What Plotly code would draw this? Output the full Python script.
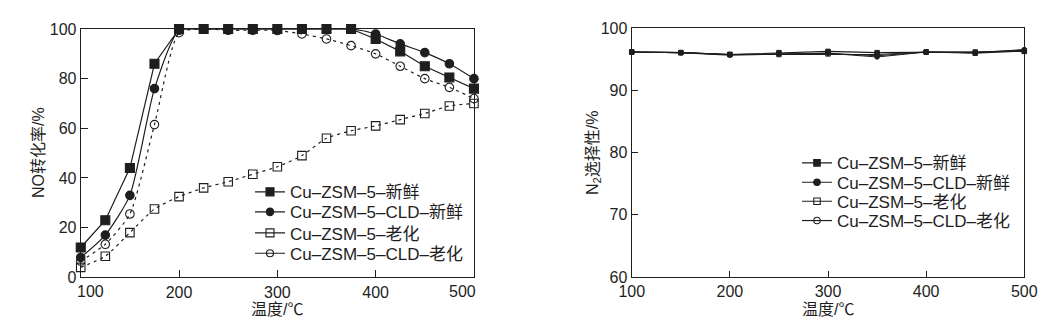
import plotly.graph_objects as go

# ---------------- data ----------------
temp_left = [100, 125, 150, 175, 200, 225, 250, 275, 300, 325, 350, 375, 400, 425, 450, 475, 500]
conv_fresh = [12, 23, 44, 86, 100, 100, 100, 100, 100, 100, 100, 100, 96, 91, 85, 80.5, 76]
conv_cld_fresh = [8, 17, 33, 76, 99.5, 100, 100, 100, 100, 100, 100, 100, 98, 94, 90.5, 86, 80]
conv_aged = [4, 8.5, 18, 27.5, 32.5, 36, 38.5, 41.5, 44.5, 49, 56, 59, 61, 63.5, 66, 69, 70]
conv_cld_aged = [6.5, 13.3, 25.5, 61.5, 98.5, 100, 99.5, 99.5, 99.4, 98, 96, 93.3, 90, 85, 80, 76.5, 72]

temp_right = [100, 150, 200, 250, 300, 350, 400, 450, 500]
sel_fresh = [96.2, 96.1, 95.8, 96.1, 96.3, 96.1, 96.2, 96.2, 96.3]
sel_cld_fresh = [96.2, 96.1, 95.7, 95.9, 96.0, 95.4, 96.2, 96.1, 96.6]
sel_aged = [96.2, 96.1, 95.8, 95.8, 95.9, 95.8, 96.2, 96.0, 96.4]
sel_cld_aged = [96.2, 96.1, 95.8, 95.9, 96.0, 95.6, 96.2, 96.1, 96.5]

names = ["Cu–ZSM–5–新鲜", "Cu–ZSM–5–CLD–新鲜", "Cu–ZSM–5–老化", "Cu–ZSM–5–CLD–老化"]
left_ticks_y = [0, 20, 40, 60, 80, 100]
left_ticks_x = [200, 300, 400]
left_end_labels = [100, 500]
right_ticks_y = [60, 70, 80, 90, 100]
right_ticks_x = [100, 200, 300, 400, 500]

FONT = "Liberation Sans, Arial, Noto Sans CJK SC, sans-serif"
INK = "#1e1e1e"

fig = go.Figure()

left_series = [conv_fresh, conv_cld_fresh, conv_aged, conv_cld_aged]
right_series = [sel_fresh, sel_cld_fresh, sel_aged, sel_cld_aged]
symbols = ["square", "circle", "square-open", "circle-open"]
left_sizes = [9, 8.5, 8.5, 8.5]
dashes = ["solid", "solid", "3px,4px", "3px,4px"]
shapes_ = ["linear", "spline", "spline", "spline"]

# data traces (left)
for i in range(4):
    fig.add_trace(go.Scatter(
        x=temp_left, y=left_series[i], name=names[i], showlegend=False,
        mode="lines+markers", xaxis="x", yaxis="y",
        line=dict(color=INK, width=1.2, dash=dashes[i], shape=shapes_[i], smoothing=0.6),
        marker=dict(symbol=symbols[i], size=left_sizes[i], color=INK,
                    line=dict(color=INK, width=1.1)),
        cliponaxis=False,
    ))

# data traces (right)
for i in range(4):
    fig.add_trace(go.Scatter(
        x=temp_right, y=right_series[i], name=names[i], showlegend=False,
        mode="lines+markers", xaxis="x2", yaxis="y2",
        line=dict(color=INK, width=1.1),
        marker=dict(symbol=symbols[i], size=4.5, color=INK,
                    line=dict(color=INK, width=1)),
        cliponaxis=False,
    ))

# legend entries (solid-line keys as in the reference)
legend_sizes = [[8, 7.5, 8, 7], [6.5, 6.5, 6.5, 6.5]]
for panel in range(2):
    for i in range(4):
        k = panel * 4 + i
        fig.add_trace(go.Scatter(
            x=[None], y=[None], name=names[i], showlegend=True,
            mode="lines+markers", xaxis="x" if panel == 0 else "x2",
            yaxis="y" if panel == 0 else "y2",
            line=dict(color=INK, width=1.2),
            marker=dict(symbol=symbols[i], size=legend_sizes[panel][i], color=INK,
                        line=dict(color=INK, width=1.1)),
            legend="legend" if k == 0 else f"legend{k+1}",
        ))

axis_common = dict(showgrid=False, zeroline=False, showline=True, mirror=True,
                   linecolor=INK, linewidth=1.2, ticks="inside", tickcolor=INK,
                   tickwidth=1.2, automargin=False,
                   tickfont=dict(family=FONT, size=16, color=INK))

layout = dict(
    template="none",
    width=1061, height=330, margin=dict(l=0, r=0, t=0, b=0, pad=0),
    paper_bgcolor="white", plot_bgcolor="white", showlegend=True,
    font=dict(family=FONT, size=16, color=INK),
    xaxis=dict(domain=[0.0761, 0.4467], range=[100, 500], tickvals=left_ticks_x,
               ticklen=7, anchor="y", **axis_common),
    yaxis=dict(domain=[0.1597, 0.9121], range=[0, 100], tickvals=left_ticks_y,
               ticklen=7, anchor="x", **axis_common),
    xaxis2=dict(domain=[0.5954, 0.9654], range=[100, 500], tickvals=right_ticks_x,
                ticklen=6, anchor="y2", **axis_common),
    yaxis2=dict(domain=[0.1606, 0.9139], range=[60, 100], tickvals=right_ticks_y,
                ticklen=6, anchor="x2", **axis_common),
)

left_rows = [0.4173, 0.3567, 0.2930, 0.2312]
right_rows = [0.5052, 0.4464, 0.3888, 0.3303]
for k in range(8):
    key = "legend" if k == 0 else f"legend{k+1}"
    ypos = left_rows[k] if k < 4 else right_rows[k - 4]
    xpos = 250 / 1061 if k < 4 else 797 / 1061
    layout[key] = dict(x=xpos, y=ypos, xanchor="left", yanchor="middle",
                       bgcolor="rgba(0,0,0,0)", borderwidth=0, visible=True,
                       font=dict(family=FONT, size=17, color=INK))

fig.update_layout(**layout)

annotations = []
for v, sh in zip(left_end_labels, [10, -11]):
    annotations.append(dict(x=v, y=0, xref="x", yref="y", text=str(v), showarrow=False,
                            xshift=sh, yanchor="top", yshift=-4,
                            font=dict(family=FONT, size=16, color=INK)))
title_y = 1 - 309 / 330
annotations += [
    dict(x=277 / 1061, y=title_y, xref="paper", yref="paper", text="温度/℃",
         showarrow=False, xanchor="center", yanchor="middle", borderpad=0,
         font=dict(family=FONT, size=16, color=INK)),
    dict(x=828 / 1061, y=title_y, xref="paper", yref="paper", text="温度/℃",
         showarrow=False, xanchor="center", yanchor="middle", borderpad=0,
         font=dict(family=FONT, size=16, color=INK)),
    dict(x=38 / 1061, y=1 - 153 / 330, xref="paper", yref="paper", text="NO转化率/%",
         textangle=-90, showarrow=False, xanchor="center", yanchor="middle",
         font=dict(family=FONT, size=16, color=INK)),
    dict(x=593 / 1061, y=1 - 153 / 330, xref="paper", yref="paper", text="N<sub>2</sub>选择性/%",
         textangle=-90, showarrow=False, xanchor="center", yanchor="middle",
         font=dict(family=FONT, size=16, color=INK)),
]
fig.update_layout(annotations=annotations)

fig.write_html("out.html")
